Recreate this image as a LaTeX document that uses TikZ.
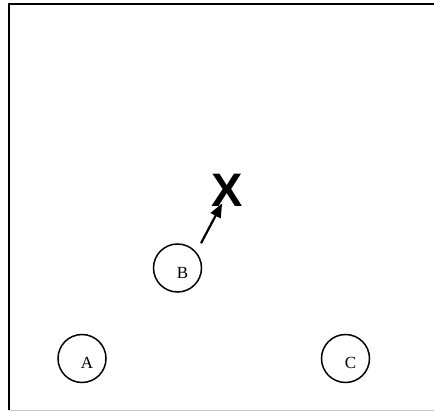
\documentclass[tikz,border=0pt]{standalone}
\usepackage{fontspec}
\setmainfont{Liberation Serif}
\newfontfamily\markfont{Liberation Sans}
\usepackage{tikz}
\usetikzlibrary{arrows.meta,calc}

\begin{document}
\begin{tikzpicture}[x=1pt,y=1pt,
  spot/.style={draw,circle,line width=1.5pt,minimum size=48pt,inner sep=0pt},
  tag/.style={font=\fontsize{17}{17}\selectfont},
  goal/.style={font=\markfont\bfseries\fontsize{47}{47}\selectfont,inner sep=0pt},
  move/.style={-{Triangle[length=14pt,width=11pt]},line width=2.2pt},
  edge/.style={line width=2pt}]
\useasboundingbox (0,0) rectangle (434,412);
% panel border, dark top and left, light bottom
\draw[edge] (434,408) -- (9,408) -- (9,2);
\draw[gray!45,line width=1.4pt] (9,1.5) -- (434,1.5);
% positions
\node[spot,label={[tag,xshift=5pt,yshift=-4pt]center:A}] (A) at (82,53.5) {};
\node[spot,label={[tag,xshift=5pt,yshift=-5pt]center:B}] (B) at (177.5,144) {};
\node[spot,label={[tag,xshift=5pt,yshift=-4pt]center:C}] (C) at (345.5,53.5) {};
\node[goal] (X) at (227,222) {X};
% step from B towards the target
\coordinate (tail) at ($(B.north)+(23.5,0)$);
\coordinate (tip) at ($(X.south west)+(11,3)$);
\draw[move] (tail) -- (tip);
\end{tikzpicture}
\end{document}
